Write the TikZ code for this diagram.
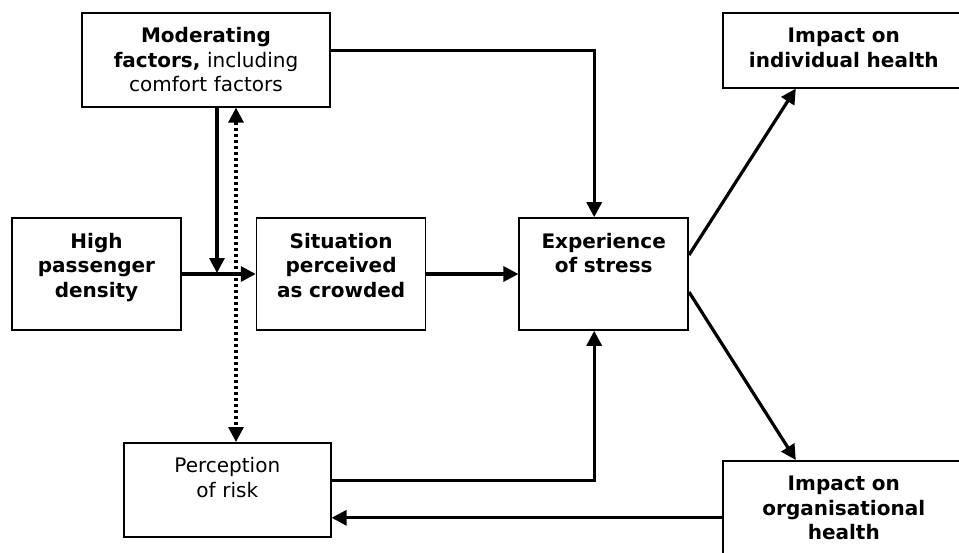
\documentclass[tikz,border=0pt]{standalone}
\usepackage{fontspec}
\setmainfont{DejaVu Sans}
\usetikzlibrary{arrows.meta,positioning}
\begin{document}
\begin{tikzpicture}[x=1pt,y=-1pt,node distance=74pt,
    box node/.style={draw,line width=1.6pt,align=center,inner xsep=4pt,inner ysep=15pt,
      text height=15pt,font=\fontsize{20}{24.5}\selectfont},
    link/.style={line width=3.2pt,-{Triangle[length=15pt,width=15pt]}},
    dotted link/.style={line width=3.2pt,dash pattern=on 3pt off 3pt,
      {Triangle[length=15pt,width=15pt]}-{Triangle[length=15pt,width=15pt]}}]
  \useasboundingbox (0,0) rectangle (959,552);

  %row%
  \node[box node,text width=161pt,text depth=67pt] (high) at (96.5,274) {\textbf{High}\\\textbf{passenger}\\\textbf{density}};
  \node[box node,text width=161pt,text depth=67pt] (sit) [right=of high] {\textbf{Situation}\\\textbf{perceived}\\\textbf{as crowded}};
  \node[box node,text width=161pt,text depth=67pt] (exp) [right=92pt of sit] {\textbf{Experience}\\\textbf{of stress}};
  %top and bottom%
  \node[box node,text width=240pt,text depth=49pt,anchor=north] (mod) at (206,12) {\textbf{Moderating}\\\textbf{factors,} including\\comfort factors};
  \node[box node,text width=199pt,text depth=49pt,anchor=north west] (risk) at (123,442) {Perception\\of risk};
  %impacts%
  \node[box node,text width=234pt,text depth=30pt,anchor=north west] (ind) at (722,12) {\textbf{Impact on}\\\textbf{individual health}};
  \node[box node,text width=234pt,text depth=57pt,anchor=north west] (org) at (722,460) {\textbf{Impact on}\\\textbf{organisational}\\\textbf{health}};

  \coordinate (modin) at (217,273);
  \coordinate (dotx) at (236,0);

  \draw[link] (high) -- (sit);
  \draw[link] (sit) -- (exp);
  \draw[link] (mod.south -| modin) -- (modin);
  \draw[dotted link] (mod.south -| dotx) -- (risk.north -| dotx);
  \draw[link] ([yshift=9pt]mod.east) -| ([xshift=-9.5pt]exp.north);
  \draw[link] ([yshift=9pt]risk.east) -| ([xshift=-9.5pt]exp.south);
  \draw[link] ([yshift=19pt]exp.east) -- ([xshift=-48pt]ind.south);
  \draw[link] ([yshift=-18pt]exp.east) -- ([xshift=-48pt]org.north);
  \draw[link] ([yshift=-6pt]org.west) -- ([yshift=-6pt]org.west -| risk.east);
\end{tikzpicture}
\end{document}
